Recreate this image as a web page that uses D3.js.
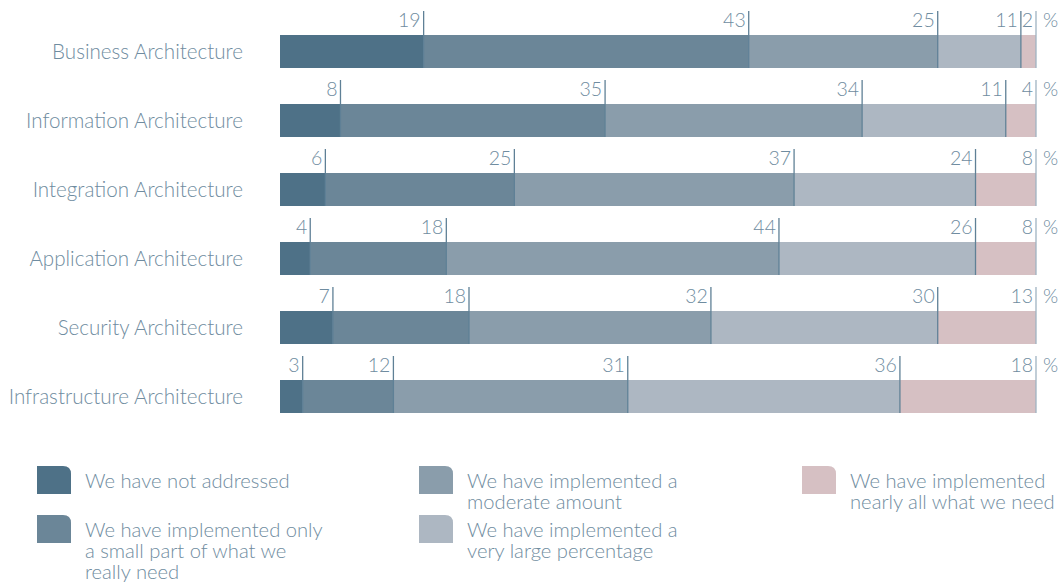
<!DOCTYPE html>
<html>
<head>
<meta charset="utf-8">
<script src="https://cdn.jsdelivr.net/npm/d3@7"></script>
<style>
  body { margin: 0; background: #fff; }
  text { font-family: "Source Sans Pro", Lato, "Open Sans", sans-serif; font-weight: 300; fill: #6f8ca0; }
</style>
</head>
<body>
<div id="chart"></div>
<script>
const categories = [
  "Business Architecture",
  "Information Architecture",
  "Integration Architecture",
  "Application Architecture",
  "Security Architecture",
  "Infrastructure Architecture"
];
const seriesNames = [
  "We have not addressed",
  "We have implemented only a small part of what we really need",
  "We have implemented a moderate amount",
  "We have implemented a very large percentage",
  "We have implemented nearly all what we need"
];
// bar lengths as drawn in the picture
const notAddressed = [19, 8, 6, 4, 7, 3];
const smallPart = [43, 35, 25, 18, 18, 12];
const moderate = [25, 34, 37, 44, 32, 31];
const veryLarge = [11, 19, 24, 26, 30, 36];
const nearlyAll = [2, 4, 8, 8, 13, 18];
// numbers printed above the bars (the source labels 11 on a 19-wide segment)
const veryLargeLabels = [11, 11, 24, 26, 30, 36];
const colors = ["#4e7187", "#6b8698", "#8a9dab", "#adb7c2", "#d6c0c3"];

const legendLines = [
  ["We have not addressed"],
  ["We have implemented only", "a small part of what we", "really need"],
  ["We have implemented a", "moderate amount"],
  ["We have implemented a", "very large percentage"],
  ["We have implemented", "nearly all what we need"]
];

const width = 1064, height = 583;
const svg = d3.select('#chart').append('svg')
  .attr('width', width)
  .attr('height', height);

const series = [notAddressed, smallPart, moderate, veryLarge, nearlyAll];
const labels = [notAddressed, smallPart, moderate, veryLargeLabels, nearlyAll];
const rows = categories.map((c, i) => {
  const obj = { category: c, index: i };
  seriesNames.forEach((s, k) => obj[s] = series[k][i]);
  return obj;
});
const stacked = d3.stack().keys(seriesNames)(rows);

const x = d3.scaleLinear().domain([0, 100]).range([280, 1036]);
// row pitch 69, bar height 33
const y = d3.scaleBand()
  .domain(categories)
  .range([35, 413])
  .paddingInner(36 / 69)
  .paddingOuter(0)
  .align(0);
const bandH = y.bandwidth();

// bars
svg.selectAll('g.series')
  .data(stacked)
  .join('g')
    .attr('class', 'series')
    .attr('fill', (d, i) => colors[i])
  .selectAll('rect')
  .data(d => d)
  .join('rect')
    .attr('x', d => x(d[0]))
    .attr('y', d => y(d.data.category))
    .attr('width', d => x(d[1]) - x(d[0]))
    .attr('height', bandH);

// markers and value labels
stacked.forEach((s, k) => {
  const g = svg.append('g');
  g.selectAll('line')
    .data(s)
    .join('line')
      .attr('x1', d => x(d[1]))
      .attr('x2', d => x(d[1]))
      .attr('y1', d => y(d.data.category) - 24)
      .attr('y2', d => y(d.data.category) + bandH)
      .attr('stroke', k === 4 ? '#9fb3c2' : '#5f8096')
      .attr('stroke-width', 1.3);
  g.selectAll('text')
    .data(s)
    .join('text')
      .attr('x', d => x(d[1]) - 3)
      .attr('y', d => y(d.data.category) - 8)
      .attr('text-anchor', 'end')
      .style('font-size', '19.5px')
      .text(d => labels[k][d.data.index]);
});

// percent signs
svg.selectAll('text.pct')
  .data(categories)
  .join('text')
    .attr('class', 'pct')
    .attr('x', x(100) + 7)
    .attr('y', d => y(d) - 8)
    .style('font-size', '19.5px')
    .text('%');

// category labels
svg.selectAll('text.cat')
  .data(categories)
  .join('text')
    .attr('class', 'cat')
    .attr('x', 243)
    .attr('y', d => y(d) + bandH / 2 + 7)
    .attr('text-anchor', 'end')
    .style('font-size', '20.6px')
    .text(d => d);

// legend
const legendPos = [
  { x: 37, y: 466 }, { x: 37, y: 515 },
  { x: 419, y: 466 }, { x: 419, y: 515 },
  { x: 802, y: 466 }
];
const legend = svg.selectAll('g.legend')
  .data(seriesNames)
  .join('g')
    .attr('class', 'legend')
    .attr('transform', (d, i) => `translate(${legendPos[i].x},${legendPos[i].y})`);

legend.append('path')
  .attr('d', 'M0,0 H26 Q34,0 34,8 V28 H0 Z')
  .attr('fill', (d, i) => colors[i]);

legend.each(function(d, i) {
  const t = d3.select(this).append('text')
    .attr('x', 48)
    .style('font-size', '20.2px');
  t.selectAll('tspan')
    .data(legendLines[i])
    .join('tspan')
      .attr('x', 48)
      .attr('y', (l, j) => 22 + j * 21)
      .text(l => l);
});
</script>
</body>
</html>
